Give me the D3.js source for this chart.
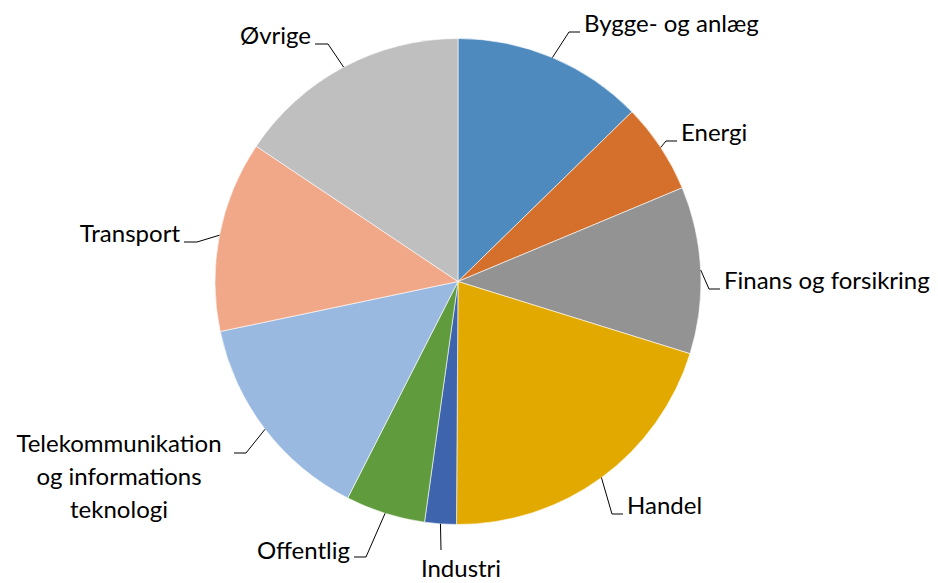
<!DOCTYPE html>
<html><head><meta charset="utf-8">
<script src="https://cdn.jsdelivr.net/npm/d3@7"></script>
<style>html,body{margin:0;padding:0;background:#fff;}svg{display:block;}</style>
</head><body>
<svg id="chart" width="938" height="583"></svg>
<script>
// Data (shares in %)
const categories = ["Bygge- og anlæg","Energi","Finans og forsikring","Handel","Industri","Offentlig","Telekommunikation og informations teknologi","Transport","Øvrige"];
const values = [12.7, 6.0, 11.1, 20.3, 2.1, 5.3, 14.2, 12.7, 15.6];
const colors = ["#4E8ABE","#D4702B","#939393","#E2AA00","#3D64AD","#609C3E","#99B9E0","#F0A889","#BFBFBF"];

// Label layout (elbow point, end of horizontal, text lines)
const labelLayout = [
  {elbow:[569,32], end:580, anchor:"start", lines:["Bygge- og anlæg"], ty:[32]},
  {elbow:[666,141], end:677, anchor:"start", lines:["Energi"], ty:[141]},
  {elbow:[709,289], end:720, anchor:"start", lines:["Finans og forsikring"], ty:[289]},
  {elbow:[612,514], end:623, anchor:"start", lines:["Handel"], ty:[514]},
  {elbow:[441,550], end:null, anchor:"middle", lines:["Industri"], ty:[577], tx:461},
  {elbow:[366,557], end:354, anchor:"end", lines:["Offentlig"], ty:[559]},
  {elbow:[246,453], end:234, anchor:"middle", lines:["Telekommunikation","og informations","teknologi"], ty:[452,485,518], tx:119},
  {elbow:[197,242], end:184, anchor:"end", lines:["Transport"], ty:[242]},
  {elbow:[328,44], end:315, anchor:"end", lines:["Øvrige"], ty:[44]}
];

const svg = d3.select("#chart");
const cx = 458, cy = 281.5, r = 243;
const g = svg.append("g").attr("transform", `translate(${cx},${cy})`);

const pie = d3.pie().sort(null).value(d => d)(values);
const arc = d3.arc().innerRadius(0).outerRadius(r);

g.selectAll("path.slice").data(pie).join("path")
  .attr("class","slice")
  .attr("d", arc)
  .attr("fill", (d,i) => colors[i])
  .attr("stroke", "#fff")
  .attr("stroke-width", 0.6);

const font = "Lato, 'Open Sans', sans-serif";
pie.forEach((d,i) => {
  const L = labelLayout[i];
  const mid = (d.startAngle + d.endAngle)/2;
  const sx = cx + r*Math.sin(mid), sy = cy - r*Math.cos(mid);
  const pts = [[sx,sy], L.elbow];
  if (L.end !== null) pts.push([L.end, L.elbow[1]]);
  svg.append("path")
    .attr("d", d3.line()(pts))
    .attr("fill","none").attr("stroke","#000").attr("stroke-width",1);
  let tx;
  if (L.tx !== undefined) tx = L.tx;
  else tx = L.anchor === "start" ? L.end + 4 : L.end - 4;
  L.lines.forEach((line, k) => {
    svg.append("text")
      .attr("x", tx).attr("y", L.ty[k])
      .attr("text-anchor", L.anchor)
      .attr("font-family", font)
      .attr("font-size", 24)
      .attr("fill", "#000")
      .text(line);
  });
});
</script>
</body></html>
